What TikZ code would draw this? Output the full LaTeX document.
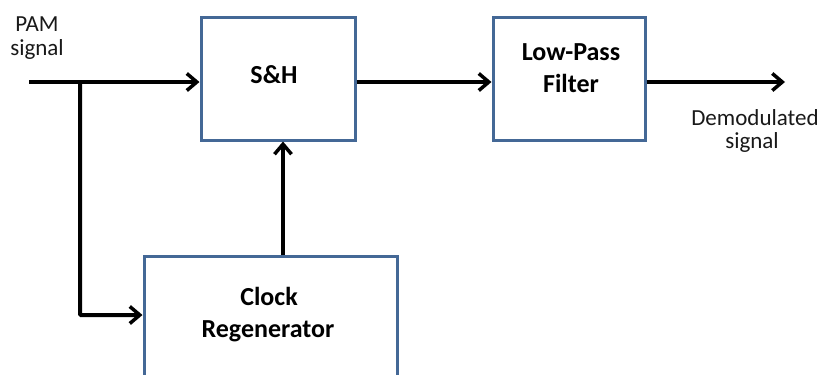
\documentclass[tikz,border=0pt]{standalone}
\usepackage{fontspec}
\setmainfont{Carlito}
\usetikzlibrary{arrows.meta}
\definecolor{boxblue}{RGB}{68,104,150}
\tikzset{
  blockbox/.style={draw=boxblue, line width=3pt, fill=white, inner sep=0pt},
  arr/.style={line width=4pt, -{Straight Barb[length=10pt,width=17pt,line width=3.5pt]}},
  lbl/.style={font=\fontsize{23}{28}\selectfont, text=black!90, anchor=base, inner sep=0pt},
  blbl/.style={font=\bfseries\fontsize{26}{31}\selectfont, text=black, anchor=base, inner sep=0pt}
}
\begin{document}
\begin{tikzpicture}[x=1pt,y=-1pt]
\clip (0,0) rectangle (820,375);
\fill[white] (0,0) rectangle (820,375);
% blocks
\node[blockbox, minimum width=154pt, minimum height=123pt] (sh) at (278,78.5) {};
\node[blockbox, minimum width=152pt, minimum height=123pt] (lpf) at (569,78.5) {};
\node[blockbox, minimum width=253pt, minimum height=130pt, anchor=north] (clock) at (270.5,255) {};
% texts
\node[blbl] (shtxt) at (274,83) {S\&H};
\node[blbl] (lpftxt1) at (571,60) {Low-Pass};
\node[blbl] (lpftxt2) at (571,92) {Filter};
\node[blbl] (clktxt1) at (269,305) {Clock};
\node[blbl] (clktxt2) at (268,337) {Regenerator};
\node[lbl] (pam1) at (37,31) {PAM};
\node[lbl] (pam2) at (37,55) {signal};
\node[lbl] (dem1) at (755,125) {Demodulated};
\node[lbl] (dem2) at (752,148) {signal};
% connectors
\coordinate (in) at (29,82);
\coordinate (br) at (80,82);
\coordinate (out) at (785,82);
\draw[arr] (in) -- (in -| sh.west);
\draw[arr, rounded corners=1pt] (br) |- ([yshift=-60pt]clock.north west);
\draw[arr] (clock.north -| 283,0) -- (sh.south -| 283,0);
\draw[arr] (sh.east |- in) -- (lpf.west |- in);
\draw[arr] (lpf.east |- in) -- (out);
\end{tikzpicture}
\end{document}
